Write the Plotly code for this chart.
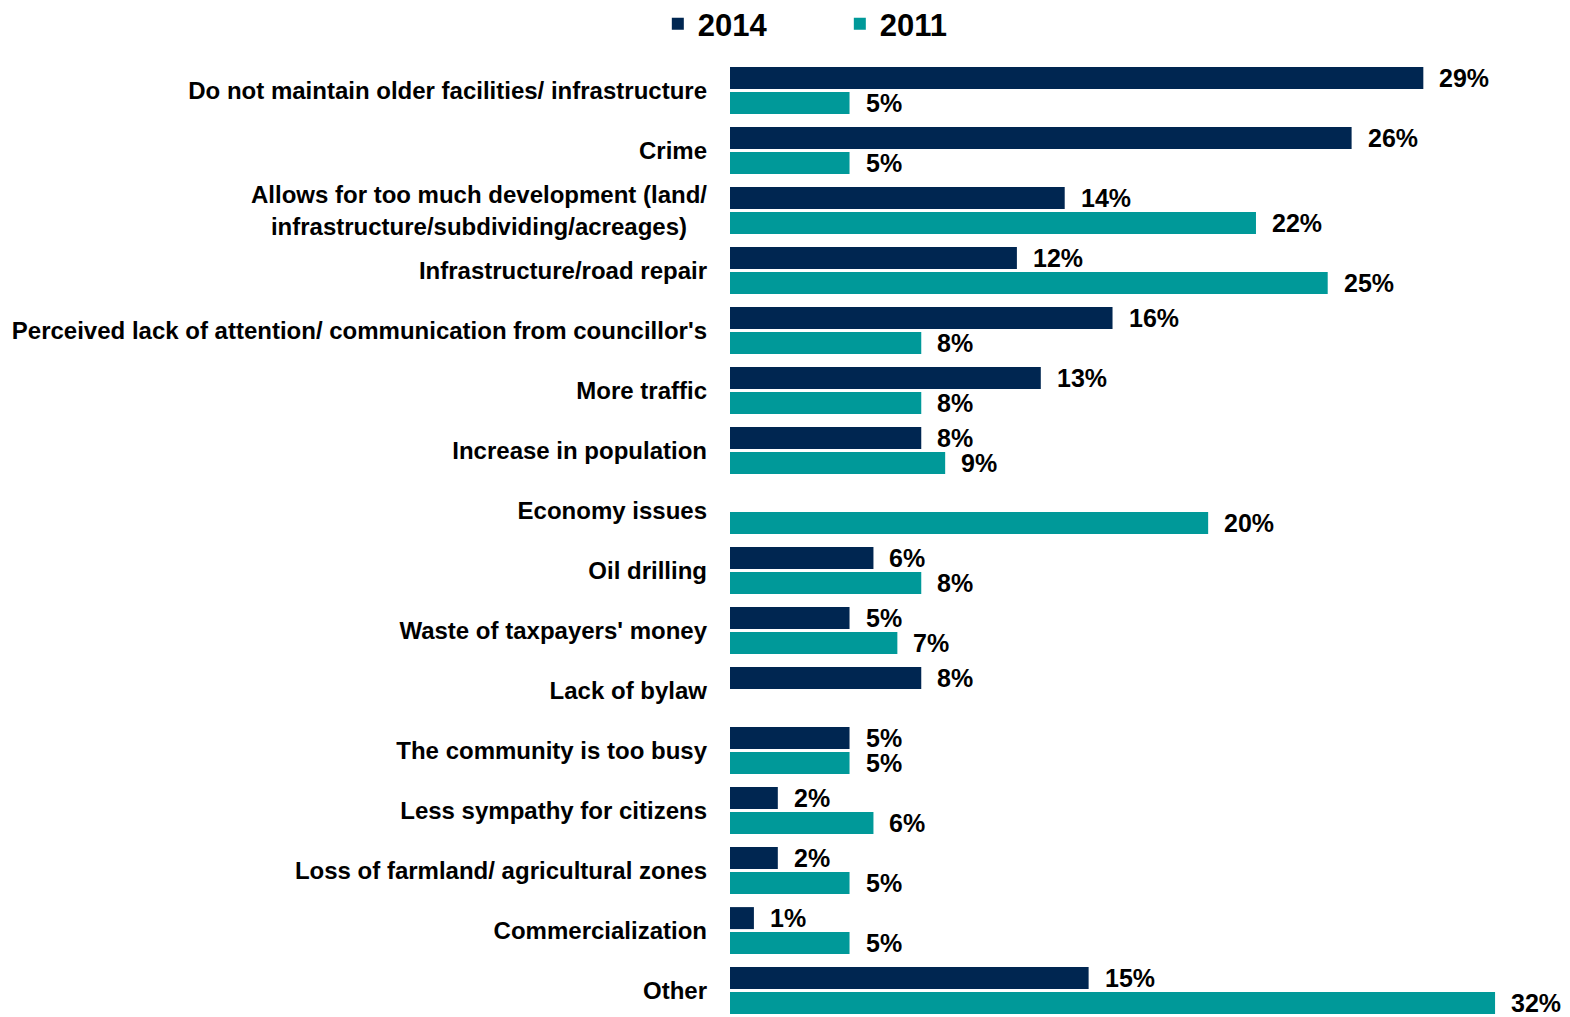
import plotly.graph_objects as go

categories = [
    "Do not maintain older facilities/ infrastructure",
    "Crime",
    "Allows for too much development (land/<br>infrastructure/subdividing/acreages)\u00a0\u00a0\u00a0",
    "Infrastructure/road repair",
    "Perceived lack of attention/ communication from councillor's",
    "More traffic",
    "Increase in population",
    "Economy issues",
    "Oil drilling",
    "Waste of taxpayers' money",
    "Lack of bylaw",
    "The community is too busy",
    "Less sympathy for citizens",
    "Loss of farmland/ agricultural zones",
    "Commercialization",
    "Other",
]
values_2014 = [29, 26, 14, 12, 16, 13, 8, None, 6, 5, 8, 5, 2, 2, 1, 15]
values_2011 = [5, 5, 22, 25, 8, 8, 9, 20, 8, 7, None, 5, 6, 5, 5, 32]
series_names = ["2014", "2011"]

NAVY = "#002651"
TEAL = "#009999"
FONT = "Liberation Sans, Arial, sans-serif"

fig = go.Figure()
fig.add_trace(go.Bar(name=series_names[0], y=categories, x=values_2014, orientation="h",
                     marker=dict(color=NAVY, line=dict(width=0))))
fig.add_trace(go.Bar(name=series_names[1], y=categories, x=values_2011, orientation="h",
                     marker=dict(color=TEAL, line=dict(width=0))))

annotations = []
for vals, shift in ((values_2014, 12.5), (values_2011, -12.5)):
    for cat, v in zip(categories, vals):
        if v is None:
            continue
        annotations.append(dict(
            x=v, y=cat, xref="x", yref="y", text=f"{v}%", showarrow=False,
            xanchor="left", yanchor="middle", xshift=14, yshift=shift,
            font=dict(family=FONT, size=25, color="#000000", weight="bold"),
        ))

fig.update_layout(
    width=1554, height=1009,
    margin=dict(l=722, r=0, t=52, b=0),
    paper_bgcolor="white", plot_bgcolor="white",
    barmode="group", bargap=1/6, bargroupgap=0.12,
    showlegend=True,
    legend=dict(orientation="h", xref="paper", x=0.132, xanchor="center",
                yref="container", y=0.984, yanchor="middle",
                font=dict(family=FONT, size=31, color="#000000", weight="bold"),
                entrywidth=137, entrywidthmode="pixels"),
    annotations=annotations,
    xaxis=dict(range=[0, 34.8], visible=False, showgrid=False, zeroline=False),
    yaxis=dict(range=[15.44, -0.51], showgrid=False, zeroline=False, showline=False,
               ticks="", ticklabelstandoff=22,
               tickfont=dict(family=FONT, size=24, color="#000000", weight="bold")),
)

fig.write_html("out.html")
